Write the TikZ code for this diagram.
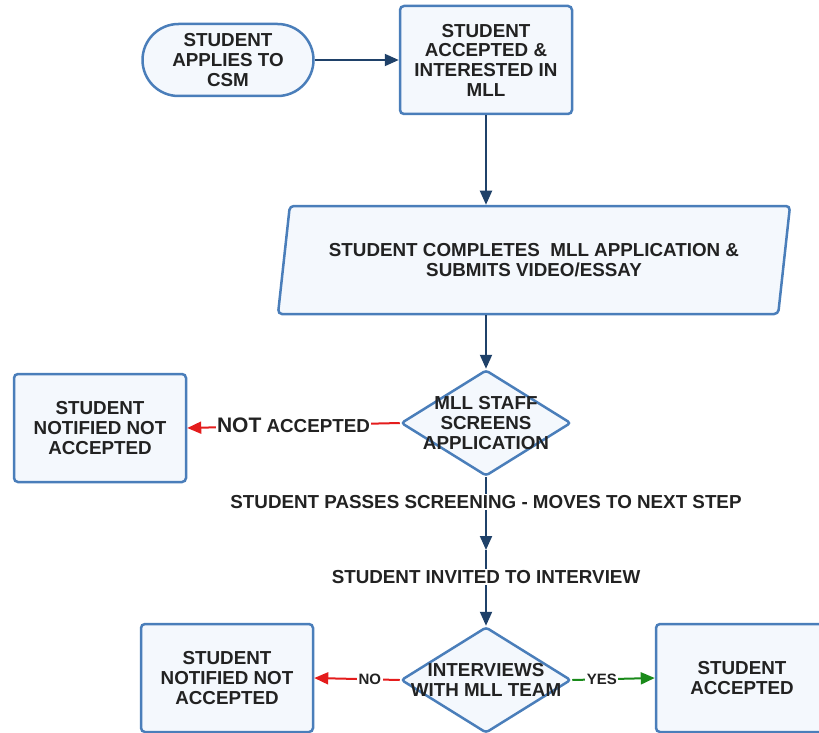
\documentclass[tikz,border=0pt]{standalone}
\usepackage{fontspec}
\setmainfont{Liberation Sans}
\usetikzlibrary{shapes.geometric,arrows.meta}

\definecolor{boxline}{RGB}{74,126,186}
\definecolor{boxfill}{RGB}{244,248,253}
\definecolor{flowline}{RGB}{31,65,105}
\definecolor{ink}{RGB}{34,34,34}
\definecolor{noline}{RGB}{228,28,28}
\definecolor{yesline}{RGB}{26,138,26}

\begin{document}
\begin{tikzpicture}[x=1pt,y=1pt,yscale=-1,
  every node/.style={font=\bfseries\fontsize{18.8}{19.7}\selectfont, text=ink, align=center},
  proc/.style={draw=boxline, fill=boxfill, line width=2.5pt, rounded corners=4pt, minimum width=172pt, minimum height=108pt, inner sep=0pt},
  term/.style={proc, rounded corners=36pt, minimum width=171pt, minimum height=72pt},
  para/.style={trapezium, trapezium left angle=73.5, trapezium right angle=106.5, trapezium stretches body, draw=boxline, fill=boxfill, line width=2.5pt, rounded corners=4pt, minimum width=512pt, minimum height=108pt},
  decide/.style={diamond, draw=boxline, fill=boxfill, line width=2.5pt, rounded corners=3pt, minimum width=170pt, minimum height=106pt, inner sep=0pt},
  flow/.style={draw=flowline, line width=2pt, -{Triangle[length=14pt,width=12pt]}},
  noflow/.style={flow, draw=noline, color=noline},
  yesflow/.style={flow, draw=yesline, color=yesline},
  lbl/.style={fill=white, inner sep=1.5pt},
  small/.style={font=\bfseries\fontsize{15}{16}\selectfont}]
\clip (0,0) rectangle (819,733);

%Shape: Terminal
\node[term] (apply) at (228,60) {STUDENT\\APPLIES TO\\CSM};
%Shape: Rectangle
\node[proc] (accept) at (486,60) {STUDENT\\ACCEPTED \&\\INTERESTED IN\\MLL};
%Shape: Parallelogram
\node[para] (complete) at (534,260) {STUDENT COMPLETES\ \ MLL APPLICATION \&\\SUBMITS VIDEO/ESSAY};
%Shape: Diamond
\node[decide, label={center:MLL STAFF\\SCREENS\\APPLICATION}] (screen) at (486,423) {};
%Shape: Rectangle
\node[proc] (rejectA) at (100,428) {STUDENT\\NOTIFIED NOT\\ACCEPTED};
\coordinate (invite) at (486,550);
%Shape: Diamond
\node[decide, label={center:INTERVIEWS\\WITH MLL TEAM}] (interview) at (486,680) {};
%Shape: Rectangle
\node[proc] (rejectB) at (227,678) {STUDENT\\NOTIFIED NOT\\ACCEPTED};
%Shape: Rectangle
\node[proc] (admit) at (742,678) {STUDENT\\ACCEPTED};

%Connectors
\draw[flow] (apply) -- (accept);
\draw[flow] (accept.south) -- (accept.south |- complete.north);
\draw[flow] (screen.north |- complete.south) -- (screen.north);
\draw[flow] (screen.south) -- node[lbl, pos=0.34] {STUDENT PASSES SCREENING - MOVES TO NEXT STEP} (invite);
\draw[flow] (invite) -- node[lbl, pos=0.36] {STUDENT INVITED TO INTERVIEW} (interview.north);
\draw[noflow] (screen.west) -- node[lbl, text=ink] {{\fontsize{21}{22}\selectfont NOT} ACCEPTED} (rejectA.east);
\draw[noflow] (interview.west) -- node[lbl, small, text=ink, pos=0.35] {NO} (rejectB.east);
\draw[yesflow] (interview.east) -- node[lbl, small, text=ink, pos=0.36] {YES} (admit.west);

\end{tikzpicture}
\end{document}
